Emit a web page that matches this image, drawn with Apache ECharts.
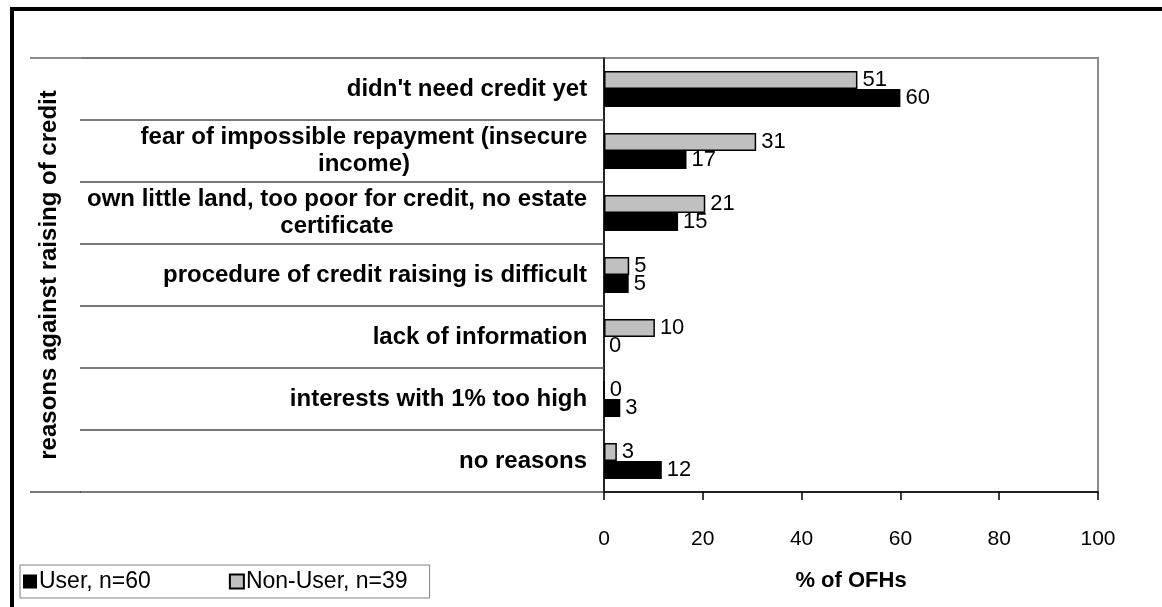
<!DOCTYPE html>
<html>
<head>
<meta charset="utf-8">
<script src="https://cdn.jsdelivr.net/npm/echarts@6/dist/echarts.min.js"></script>
<style>
html,body{margin:0;padding:0;background:#fff;}
#chart{width:1162px;height:607px;}
</style>
</head>
<body>
<div id="chart"></div>
<script>
// ---- data ----
var categories = [
  "didn't need credit yet",
  "fear of impossible repayment (insecure\nincome)",
  "own little land, too poor for credit, no estate\ncertificate",
  "procedure of credit raising is difficult",
  "lack of information",
  "interests with 1% too high",
  "no reasons"
];
var nonUserValues = [51.3, 30.8, 20.5, 5.1, 10.3, 0, 2.6];
var userValues = [60, 16.7, 15, 5, 0, 3.3, 11.7];
var seriesNames = ["User, n=60", "Non-User, n=39"];
var xTicks = [0, 20, 40, 60, 80, 100];
var xTitle = "% of OFHs";
var yTitle = "reasons against raising of credit";

// ---- styles ----
var FONT = "Liberation Sans, Arial, sans-serif";
var catFontSize = 24;
var ctx = document.createElement('canvas').getContext('2d');
ctx.font = 'bold ' + catFontSize + 'px ' + FONT;
var rich = {};
categories.forEach(function (c, i) {
  var w = 0;
  c.split('\n').forEach(function (l) { w = Math.max(w, ctx.measureText(l).width); });
  rich['r' + i] = {
    width: Math.ceil(w) + 1, align: 'center', fontWeight: 'bold',
    fontSize: catFontSize, fontFamily: FONT, color: '#000', lineHeight: 27
  };
});

var chart = echarts.init(document.getElementById('chart'), null, {renderer: 'canvas'});
chart.setOption({
  animation: false,
  backgroundColor: '#fff',
  graphic: [
    {type: 'rect', z: 100, silent: true,
     shape: {x: 12, y: 9, width: 1300, height: 800},
     style: {fill: 'none', stroke: '#000', lineWidth: 4}},
    {type: 'line', z: 5, silent: true,
     shape: {x1: 30, y1: 58, x2: 81, y2: 58},
     style: {stroke: '#8c8c8c', lineWidth: 2}},
    {type: 'line', z: 5, silent: true,
     shape: {x1: 30, y1: 492, x2: 81, y2: 492},
     style: {stroke: '#4d4d4d', lineWidth: 1.5}}
  ],
  grid: {left: 604, top: 58, width: 494, height: 434, show: true, borderColor: '#8c8c8c', borderWidth: 2, backgroundColor: 'transparent'},
  legend: {
    data: seriesNames,
    left: 20, top: 565,
    orient: 'horizontal',
    icon: 'rect', itemWidth: 14, itemHeight: 14, itemGap: 78,
    padding: [5, 22, 5, 3],
    borderColor: '#808080', borderWidth: 1, backgroundColor: '#fff',
    textStyle: {fontSize: 23, fontFamily: FONT, color: '#000', padding: [0, 0, 0, -3]}
  },
  xAxis: {
    type: 'value', min: xTicks[0], max: xTicks[xTicks.length - 1], interval: 20,
    axisLine: {show: true, lineStyle: {color: '#000', width: 1.5}},
    axisTick: {show: true, length: 8, lineStyle: {color: '#000', width: 1.5}},
    splitLine: {show: false},
    axisLabel: {fontSize: 21, fontFamily: FONT, color: '#000', margin: 37},
    name: xTitle, nameLocation: 'middle', nameGap: 78,
    nameTextStyle: {fontSize: 22, fontWeight: 'bold', fontFamily: FONT, color: '#000'}
  },
  yAxis: {
    type: 'category', inverse: true, data: categories,
    axisLine: {show: true, lineStyle: {color: '#000', width: 1.5}},
    axisTick: {show: true, length: 524, interval: 0, lineStyle: {color: '#4d4d4d', width: 1.5}},
    axisLabel: {
      interval: 0, margin: 16, align: 'right',
      formatter: function (v, i) {
        return v.split('\n').map(function (l) { return '{r' + i + '|' + l + '}'; }).join('\n');
      },
      rich: rich
    },
    name: yTitle, nameLocation: 'middle', nameRotate: 90, nameGap: 543,
    nameTextStyle: {fontSize: 24, fontWeight: 700, fontFamily: FONT, color: '#000'}
  },
  series: [
    {
      name: seriesNames[1], type: 'bar', data: nonUserValues,
      barWidth: 18, barGap: '0%',
      itemStyle: {color: '#c0c0c0', borderColor: '#000', borderWidth: 1.5},
      label: {show: true, position: 'right', distance: 5, fontSize: 22, fontFamily: FONT, color: '#000',
        formatter: function (p) { return Math.round(p.value); }}
    },
    {
      name: seriesNames[0], type: 'bar', data: userValues,
      barWidth: 18, barGap: '0%',
      itemStyle: {color: '#000'},
      label: {show: true, position: 'right', distance: 5, fontSize: 22, fontFamily: FONT, color: '#000',
        formatter: function (p) { return Math.round(p.value); }}
    }
  ]
});
</script>
</body>
</html>
